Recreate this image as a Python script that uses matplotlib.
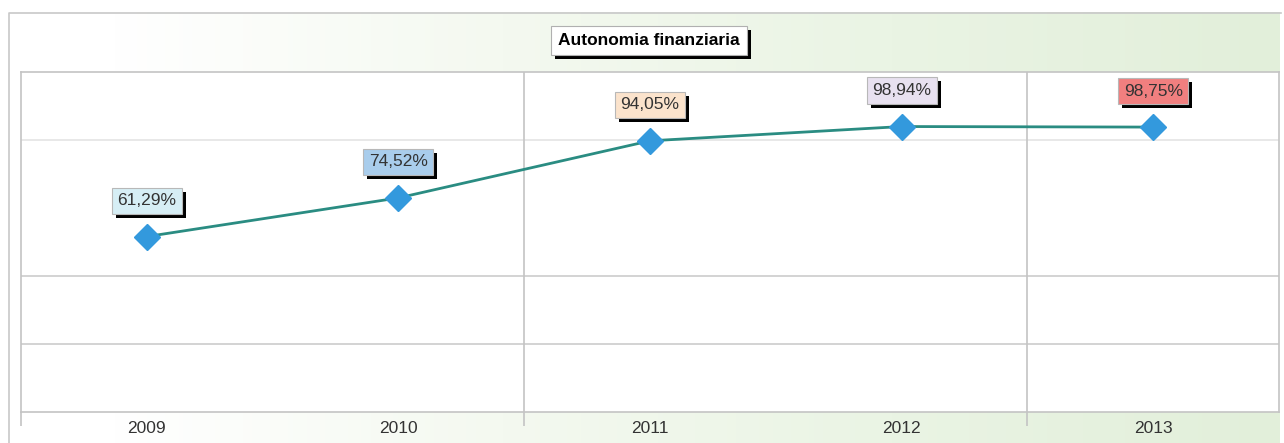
import numpy as np
import matplotlib
matplotlib.use('Agg')
import matplotlib.pyplot as plt
from matplotlib.colors import LinearSegmentedColormap
from matplotlib.patches import Rectangle
from matplotlib.transforms import IdentityTransform

plt.rcParams['font.family'] = ['Liberation Sans', 'DejaVu Sans']

# data
years = ['2009', '2010', '2011', '2012', '2013']
values = [61.29, 74.52, 94.05, 98.94, 98.75]
value_labels = ['61,29%', '74,52%', '94,05%', '98,94%', '98,75%']
label_colors = ['#d6eef5', '#a9cdec', '#fbe3cc', '#e8e1f0', '#f17f7f']
title = 'Autonomia finanziaria'

W, H = 1284, 443
fig = plt.figure(figsize=(W / 100, H / 100), dpi=100)
fig.patch.set_facecolor('white')

# background frame with green gradient bands
bg = fig.add_axes([0, 0, 1, 1])
bg.set_xlim(0, W)
bg.set_ylim(H, 0)
bg.axis('off')
green = LinearSegmentedColormap.from_list('g', ['#ffffff', '#f4f9f0', '#eaf4e4', '#e2efda'])
grad = np.linspace(0, 1, 256).reshape(1, -1)
bg.imshow(grad, cmap=green, extent=[110, 1280, 72, 12], aspect='auto')
bg.imshow(grad, cmap=green, extent=[110, 1280, 443, 412], aspect='auto')
bg.plot([8.5, 8.5, 1280.5], [443, 12.5, 12.5], color='#c8c8c8', lw=1.2)

# title box
title_txt = bg.text(649, 40.5, title, fontsize=12.5, fontweight='bold', color='black', ha='center',
                    va='center', zorder=6,
                    bbox=dict(boxstyle='square,pad=0.42', fc='white', ec='#b0b0b0', lw=0.8))

# main plot
ax = fig.add_axes([21 / W, (H - 411.6) / H, (1279 - 21) / W, 339.6 / H])
ax.set_facecolor('white')
x = np.arange(len(years))
ax.set_xlim(-0.5, len(years) - 0.5)
ax.set_ylim(1.4, 117.6)

for f, c in [(0.2, '#cccccc'), (0.4, '#cccccc'), (0.8, '#e4e4e4')]:
    ax.axhline(f * 117.6 + (1 - f) * 1.4, color=c, lw=1.2, zorder=1)
for xv in [1.5, 3.5]:
    ax.axvline(xv, color='#c4c4c4', lw=1.2, zorder=1)

ax.plot(x, values, color='#2a8c82', lw=2, zorder=3)
ax.plot(x, values, 'D', color='#3399dd', markersize=13, markeredgecolor='#3399dd', zorder=4)

label_txts = []
for xi, v, lab, col in zip(x, values, value_labels, label_colors):
    t = ax.annotate(lab, (xi, v), xytext=(0, 36), textcoords='offset pixels', ha='center', va='center',
                    fontsize=12.5, color='#333333', zorder=6,
                    bbox=dict(boxstyle='square,pad=0.32', fc=col, ec='#b8b8b8', lw=0.8))
    label_txts.append(t)

ax.set_xticks(x)
ax.set_xticklabels(years)
ax.set_yticks([])
ax.tick_params(axis='x', length=0, pad=7, labelsize=12.5, labelcolor='#333333')
ax.set_xticks([-0.5, 1.5, 3.5], minor=True)
ax.tick_params(axis='x', which='minor', length=10, color='#c4c4c4', width=1.2)
for s in ax.spines.values():
    s.set_color('#c4c4c4')
    s.set_linewidth(1.2)

# black drop shadows behind the boxes
fig.canvas.draw()
renderer = fig.canvas.get_renderer()
for t, host in [(title_txt, bg)] + [(t, ax) for t in label_txts]:
    bb = t.get_bbox_patch().get_window_extent(renderer)
    host.add_patch(Rectangle((bb.x0 + 4, bb.y0 - 4), bb.width, bb.height, transform=IdentityTransform(),
                             fc='black', ec='none', zorder=5, clip_on=False))

fig.savefig('out.png', dpi=100)
